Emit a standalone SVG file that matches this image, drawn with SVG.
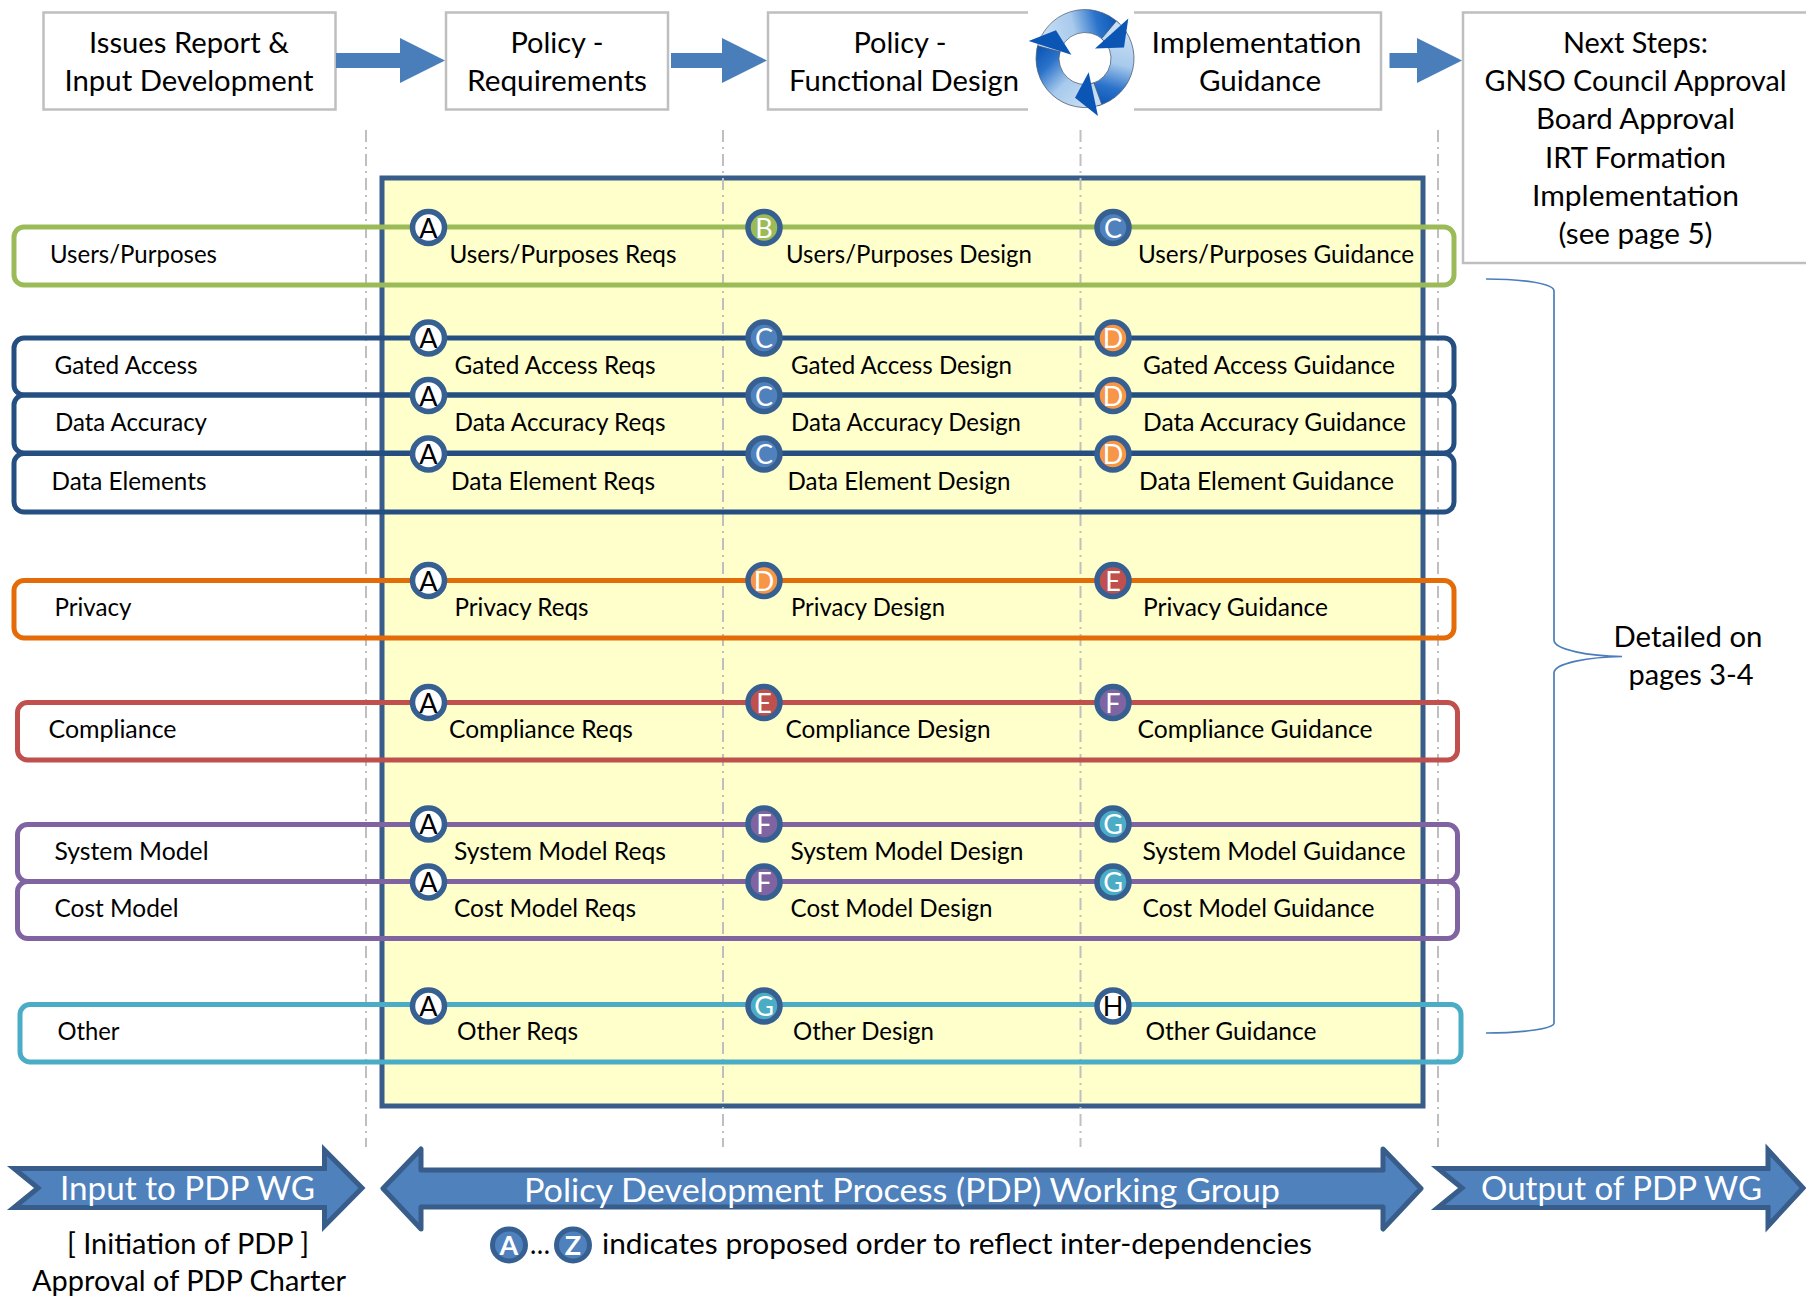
<svg xmlns="http://www.w3.org/2000/svg" xmlns:xlink="http://www.w3.org/1999/xlink" width="1806" height="1297" viewBox="0 0 1806 1297">
<style>
text{font-family:"Lato","Liberation Sans",sans-serif;fill:#000;}
.h{font-size:29.5px;text-anchor:middle;transform:translateY(1px);}
.l{font-size:24.5px;transform:translateY(1px);}
.w{font-size:32.5px;fill:#fff;transform:translateY(1px);}
.hd{fill:none;stroke:#BFBFBF;stroke-width:2.5;}
.ar{fill:#4A7EBB;}
.big{fill:#4F81BD;stroke:#385D8A;stroke-width:5;}
.dash{fill:none;stroke:#BFBFBF;stroke-width:2;stroke-dasharray:12 5 2 5;}
.row{fill:none;stroke-width:5;}
.c{stroke:#376092;stroke-width:5.5;}
.ct{font-size:27px;text-anchor:middle;fill:#fff;}
.ck{fill:#000;}
</style>
<defs>
<linearGradient id="rg" gradientUnits="userSpaceOnUse" x1="-38" y1="-5" x2="36" y2="-24">
<stop offset="0" stop-color="#C8DEF4"/><stop offset="0.42" stop-color="#A8CAEC"/><stop offset="0.74" stop-color="#2A72CA"/><stop offset="1" stop-color="#0B55B5"/>
</linearGradient>
<path id="seg" d="M-48.3,-8.5A49,49 0 0 1 34.6,-34.6L18.4,-18.4A26,26 0 0 0 -25.6,-4.5Z" fill="url(#rg)" stroke="#4A5A70" stroke-width="0.7"/>
<path id="head" d="M43.3,-40L39,-11L10,-10Z" fill="#0B55B5"/>
</defs>
<rect width="1806" height="1297" fill="#fff"/>

<g id="panel"><rect x="382" y="178" width="1041" height="928" fill="#FFFFCC" stroke="#385D8A" stroke-width="5"/></g>
<g id="guides">
<path class="dash" d="M366,130V1147"/><path class="dash" d="M723,130V1147"/><path class="dash" d="M1080.500,130V1147"/><path class="dash" d="M1438,130V1147"/>
</g>

<g id="node-issues"><rect class="hd" x="43.500" y="12.500" width="292" height="97" fill="#fff"/>
<text class="h" x="189" y="52" textLength="200" lengthAdjust="spacingAndGlyphs">Issues Report &amp;</text>
<text class="h" x="189" y="90" textLength="249" lengthAdjust="spacingAndGlyphs">Input Development</text></g>
<g id="node-requirements"><rect class="hd" x="446" y="12.500" width="222" height="97"/>
<text class="h" x="557" y="52" textLength="93" lengthAdjust="spacingAndGlyphs">Policy -</text>
<text class="h" x="557" y="90" textLength="180" lengthAdjust="spacingAndGlyphs">Requirements</text></g>
<g id="node-functional"><path class="hd" d="M1028,12.500H768V109.500H1028"/>
<text class="h" x="900" y="52" textLength="93" lengthAdjust="spacingAndGlyphs">Policy -</text>
<text class="h" x="904" y="90" textLength="230" lengthAdjust="spacingAndGlyphs">Functional Design</text></g>
<g id="node-implementation"><path class="hd" d="M1134,12.500H1381V109.500H1134"/>
<text class="h" x="1256.500" y="52" textLength="210" lengthAdjust="spacingAndGlyphs">Implementation</text>
<text class="h" x="1260" y="90" textLength="122" lengthAdjust="spacingAndGlyphs">Guidance</text></g>
<g id="node-cycle" transform="translate(1085,58.500)">
<use xlink:href="#seg" href="#seg"/><use xlink:href="#seg" href="#seg" transform="rotate(120)"/><use xlink:href="#seg" href="#seg" transform="rotate(240)"/>
<use xlink:href="#head" href="#head"/><use xlink:href="#head" href="#head" transform="rotate(120)"/><use xlink:href="#head" href="#head" transform="rotate(240)"/>
</g>
<g id="node-next"><path class="hd" d="M1806,12.500H1463V263H1806"/>
<text class="h" x="1635.500" y="52" textLength="145" lengthAdjust="spacingAndGlyphs">Next Steps:</text>
<text class="h" x="1635.500" y="90" textLength="302" lengthAdjust="spacingAndGlyphs">GNSO Council Approval</text>
<text class="h" x="1635.500" y="128" textLength="199" lengthAdjust="spacingAndGlyphs">Board Approval</text>
<text class="h" x="1635.500" y="167" textLength="181" lengthAdjust="spacingAndGlyphs">IRT Formation</text>
<text class="h" x="1635.500" y="205" textLength="207" lengthAdjust="spacingAndGlyphs">Implementation</text>
<text class="h" x="1635.500" y="243" textLength="154" lengthAdjust="spacingAndGlyphs">(see page 5)</text></g>

<g id="connectors">
<path class="ar" d="M336,53H400V38L445,60.500L400,83V68H336Z"/>
<path class="ar" d="M671,53H722V38L767,60.500L722,83V68H671Z"/>
<path class="ar" d="M1389.500,53H1417V38L1462,60.500L1417,83V68H1389.500Z"/>
<path d="M1486,279C1520,279 1554,283 1554,291V640C1554,650 1590,656 1622,656.500C1590,657 1554,663 1554,673V1023C1554,1029 1520,1033 1486,1033" fill="none" stroke="#4A7EBB" stroke-width="1.700"/>
</g>

<g id="node-users"><rect class="row" x="14" y="227" width="1440" height="58" rx="10" stroke="#9BBB59"/>
<text class="l" x="50" y="262" textLength="167" lengthAdjust="spacingAndGlyphs">Users/Purposes</text>
<text class="l" x="449.500" y="262" textLength="227" lengthAdjust="spacingAndGlyphs">Users/Purposes Reqs</text>
<text class="l" x="786" y="262" textLength="246" lengthAdjust="spacingAndGlyphs">Users/Purposes Design</text>
<text class="l" x="1138" y="262" textLength="276" lengthAdjust="spacingAndGlyphs">Users/Purposes Guidance</text>
<circle class="c" cx="428.500" cy="227.500" r="16" fill="#fff"/><text class="ct ck" x="428.500" y="237.500">A</text>
<circle class="c" cx="764" cy="227.500" r="16" fill="#9BBB59"/><text class="ct" x="764" y="237.500">B</text>
<circle class="c" cx="1113" cy="227.500" r="16" fill="#4F81BD"/><text class="ct" x="1113" y="237.500">C</text></g>

<g id="node-gated"><rect class="row" x="14" y="338" width="1440" height="57" rx="10" stroke="#254F80"/>
<text class="l" x="54.500" y="373" textLength="143" lengthAdjust="spacingAndGlyphs">Gated Access</text>
<text class="l" x="454.500" y="373" textLength="201" lengthAdjust="spacingAndGlyphs">Gated Access Reqs</text>
<text class="l" x="791" y="373" textLength="221" lengthAdjust="spacingAndGlyphs">Gated Access Design</text>
<text class="l" x="1143" y="373" textLength="252" lengthAdjust="spacingAndGlyphs">Gated Access Guidance</text>
<circle class="c" cx="428.500" cy="338" r="16" fill="#fff"/><text class="ct ck" x="428.500" y="348">A</text>
<circle class="c" cx="764" cy="338" r="16" fill="#4F81BD"/><text class="ct" x="764" y="348">C</text>
<circle class="c" cx="1113" cy="338" r="16" fill="#F79646"/><text class="ct" x="1113" y="348">D</text></g>

<g id="node-accuracy"><rect class="row" x="14" y="395" width="1440" height="58" rx="10" stroke="#254F80"/>
<text class="l" x="55" y="430" textLength="152" lengthAdjust="spacingAndGlyphs">Data Accuracy</text>
<text class="l" x="454.500" y="430" textLength="211" lengthAdjust="spacingAndGlyphs">Data Accuracy Reqs</text>
<text class="l" x="791" y="430" textLength="230" lengthAdjust="spacingAndGlyphs">Data Accuracy Design</text>
<text class="l" x="1143" y="430" textLength="263" lengthAdjust="spacingAndGlyphs">Data Accuracy Guidance</text>
<circle class="c" cx="428.500" cy="395.500" r="16" fill="#fff"/><text class="ct ck" x="428.500" y="405.500">A</text>
<circle class="c" cx="764" cy="395.500" r="16" fill="#4F81BD"/><text class="ct" x="764" y="405.500">C</text>
<circle class="c" cx="1113" cy="395.500" r="16" fill="#F79646"/><text class="ct" x="1113" y="405.500">D</text></g>

<g id="node-elements"><rect class="row" x="14" y="453.500" width="1440" height="58.500" rx="10" stroke="#254F80"/>
<text class="l" x="51.500" y="489" textLength="155" lengthAdjust="spacingAndGlyphs">Data Elements</text>
<text class="l" x="451" y="489" textLength="204" lengthAdjust="spacingAndGlyphs">Data Element Reqs</text>
<text class="l" x="787.500" y="489" textLength="223" lengthAdjust="spacingAndGlyphs">Data Element Design</text>
<text class="l" x="1139" y="489" textLength="255" lengthAdjust="spacingAndGlyphs">Data Element Guidance</text>
<circle class="c" cx="428.500" cy="454" r="16" fill="#fff"/><text class="ct ck" x="428.500" y="464">A</text>
<circle class="c" cx="764" cy="454" r="16" fill="#4F81BD"/><text class="ct" x="764" y="464">C</text>
<circle class="c" cx="1113" cy="454" r="16" fill="#F79646"/><text class="ct" x="1113" y="464">D</text></g>

<g id="node-privacy"><rect class="row" x="14" y="580.500" width="1440" height="57.500" rx="10" stroke="#E36C09"/>
<text class="l" x="54.500" y="615" textLength="77" lengthAdjust="spacingAndGlyphs">Privacy</text>
<text class="l" x="454.500" y="615" textLength="134" lengthAdjust="spacingAndGlyphs">Privacy Reqs</text>
<text class="l" x="791" y="615" textLength="154" lengthAdjust="spacingAndGlyphs">Privacy Design</text>
<text class="l" x="1143" y="615" textLength="185" lengthAdjust="spacingAndGlyphs">Privacy Guidance</text>
<circle class="c" cx="428.500" cy="580.500" r="16" fill="#fff"/><text class="ct ck" x="428.500" y="590.500">A</text>
<circle class="c" cx="764" cy="580.500" r="16" fill="#F79646"/><text class="ct" x="764" y="590.500">D</text>
<circle class="c" cx="1113" cy="580.500" r="16" fill="#C0504D"/><text class="ct" x="1113" y="590.500">E</text></g>

<g id="node-compliance"><rect class="row" x="17.500" y="702.500" width="1440" height="57.500" rx="10" stroke="#C0504D"/>
<text class="l" x="48.500" y="737" textLength="128" lengthAdjust="spacingAndGlyphs">Compliance</text>
<text class="l" x="449" y="737" textLength="184" lengthAdjust="spacingAndGlyphs">Compliance Reqs</text>
<text class="l" x="785.500" y="737" textLength="205" lengthAdjust="spacingAndGlyphs">Compliance Design</text>
<text class="l" x="1137.500" y="737" textLength="235" lengthAdjust="spacingAndGlyphs">Compliance Guidance</text>
<circle class="c" cx="428.500" cy="702.500" r="16" fill="#fff"/><text class="ct ck" x="428.500" y="712.500">A</text>
<circle class="c" cx="764" cy="702.500" r="16" fill="#C0504D"/><text class="ct" x="764" y="712.500">E</text>
<circle class="c" cx="1113" cy="702.500" r="16" fill="#8064A2"/><text class="ct" x="1113" y="712.500">F</text></g>

<g id="node-system"><rect class="row" x="17.500" y="824.500" width="1440" height="57" rx="10" stroke="#8064A2"/>
<text class="l" x="54.500" y="859" textLength="154" lengthAdjust="spacingAndGlyphs">System Model</text>
<text class="l" x="454" y="859" textLength="212" lengthAdjust="spacingAndGlyphs">System Model Reqs</text>
<text class="l" x="790.500" y="859" textLength="233" lengthAdjust="spacingAndGlyphs">System Model Design</text>
<text class="l" x="1142.500" y="859" textLength="263" lengthAdjust="spacingAndGlyphs">System Model Guidance</text>
<circle class="c" cx="428.500" cy="824" r="16" fill="#fff"/><text class="ct ck" x="428.500" y="834">A</text>
<circle class="c" cx="764" cy="824" r="16" fill="#8064A2"/><text class="ct" x="764" y="834">F</text>
<circle class="c" cx="1113" cy="824" r="16" fill="#4BACC6"/><text class="ct" x="1113" y="834">G</text></g>

<g id="node-cost"><rect class="row" x="17.500" y="881.500" width="1440" height="57" rx="10" stroke="#8064A2"/>
<text class="l" x="54.500" y="916" textLength="124" lengthAdjust="spacingAndGlyphs">Cost Model</text>
<text class="l" x="454" y="916" textLength="182" lengthAdjust="spacingAndGlyphs">Cost Model Reqs</text>
<text class="l" x="790.500" y="916" textLength="202" lengthAdjust="spacingAndGlyphs">Cost Model Design</text>
<text class="l" x="1142.500" y="916" textLength="232" lengthAdjust="spacingAndGlyphs">Cost Model Guidance</text>
<circle class="c" cx="428.500" cy="882" r="16" fill="#fff"/><text class="ct ck" x="428.500" y="892">A</text>
<circle class="c" cx="764" cy="882" r="16" fill="#8064A2"/><text class="ct" x="764" y="892">F</text>
<circle class="c" cx="1113" cy="882" r="16" fill="#4BACC6"/><text class="ct" x="1113" y="892">G</text></g>

<g id="node-other"><rect class="row" x="20" y="1004.500" width="1441" height="57.500" rx="10" stroke="#4BACC6"/>
<text class="l" x="57.500" y="1039" textLength="62" lengthAdjust="spacingAndGlyphs">Other</text>
<text class="l" x="457" y="1039" textLength="121" lengthAdjust="spacingAndGlyphs">Other Reqs</text>
<text class="l" x="793" y="1039" textLength="141" lengthAdjust="spacingAndGlyphs">Other Design</text>
<text class="l" x="1145.500" y="1039" textLength="171" lengthAdjust="spacingAndGlyphs">Other Guidance</text>
<circle class="c" cx="428.500" cy="1006" r="16" fill="#fff"/><text class="ct ck" x="428.500" y="1016">A</text>
<circle class="c" cx="764" cy="1006" r="16" fill="#4BACC6"/><text class="ct" x="764" y="1016">G</text>
<circle class="c" cx="1113" cy="1006" r="16" fill="#fff"/><text class="ct ck" x="1113" y="1016">H</text></g>

<g id="node-detailed">
<text class="h" x="1688" y="646" textLength="149" lengthAdjust="spacingAndGlyphs">Detailed on</text>
<text class="h" x="1691" y="684" textLength="125" lengthAdjust="spacingAndGlyphs">pages 3-4</text></g>

<g id="node-input">
<path class="big" d="M14,1168.500H324.500V1150L362,1188L324.500,1226V1207.500H14L38,1188Z"/>
<text class="w" x="60" y="1199" textLength="255" lengthAdjust="spacingAndGlyphs">Input to PDP WG</text>
<text class="h" x="188" y="1253" textLength="242" lengthAdjust="spacingAndGlyphs">[ Initiation of PDP ]</text>
<text class="h" x="189" y="1290" textLength="314" lengthAdjust="spacingAndGlyphs">Approval of PDP Charter</text></g>

<g id="node-pdp">
<path class="big" stroke-linejoin="round" d="M383,1188.500L421,1149V1170H1383V1149L1421,1188.500L1383,1229V1207H421V1229Z"/>
<text class="w" x="524" y="1201" textLength="756" lengthAdjust="spacingAndGlyphs">Policy Development Process (PDP) Working Group</text></g>

<g id="node-output">
<path class="big" d="M1438,1168.500H1768V1150L1803,1188L1768,1226V1207.500H1438L1462,1188Z"/>
<text class="w" x="1481" y="1199" textLength="281" lengthAdjust="spacingAndGlyphs">Output of PDP WG</text></g>

<g id="node-legend">
<ellipse cx="509" cy="1245" rx="16.500" ry="16" fill="#4F81BD" stroke="#376092" stroke-width="5"/>
<text x="509" y="1255" font-size="27" font-weight="700" text-anchor="middle" style="fill:#fff">A</text>
<text class="h" x="540" y="1253" textLength="20" lengthAdjust="spacingAndGlyphs">…</text>
<ellipse cx="573" cy="1245" rx="16.500" ry="16" fill="#4F81BD" stroke="#376092" stroke-width="5"/>
<text x="573" y="1255" font-size="27" font-weight="700" text-anchor="middle" style="fill:#fff">Z</text>
<text class="h" x="957" y="1253" textLength="710" lengthAdjust="spacingAndGlyphs">indicates proposed order to reflect inter-dependencies</text></g>
</svg>
